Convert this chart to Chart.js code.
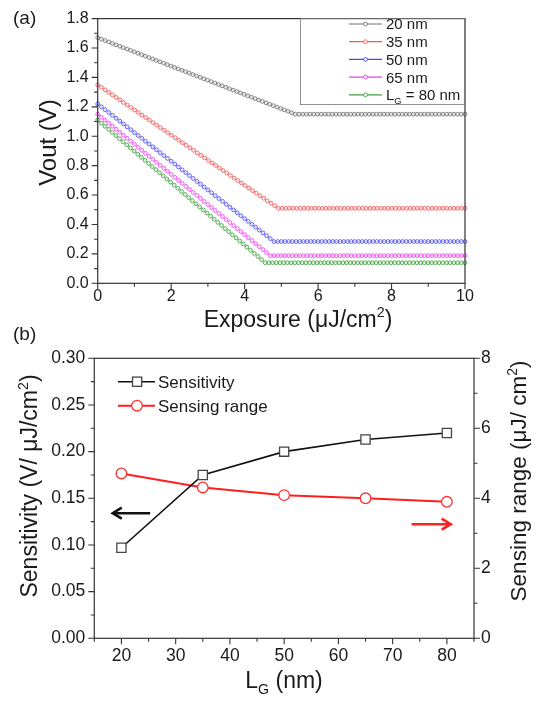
<!DOCTYPE html>
<html><head><meta charset="utf-8">
<style>
html,body{margin:0;padding:0;background:#fff;width:543px;height:703px;overflow:hidden}
canvas{position:absolute;left:0}
#cA{top:0;width:543px;height:340px}
#cB{top:310px;width:543px;height:393px}
</style>
<script src="https://cdn.jsdelivr.net/npm/chart.js@4.4.1/dist/chart.umd.min.js"></script>
</head><body>
<canvas id="cA" width="543" height="340"></canvas>
<canvas id="cB" width="543" height="393"></canvas>
<script>
// ---------- DATA: panel (a) ----------
const exposureRange = [0, 10];
const voutRange = [0, 1.8];
const gateLabels = ['20 nm', '35 nm', '50 nm', '65 nm', '80 nm'];
const voutStart = [1.67, 1.35, 1.22, 1.15, 1.11];
const kneeExposure = [5.38, 4.92, 4.80, 4.70, 4.56];
const voutFloor = [1.15, 0.51, 0.284, 0.188, 0.14];
// ---------- DATA: panel (b) ----------
const gateLengths = [20, 35, 50, 65, 80];
const sensitivity = [0.097, 0.175, 0.200, 0.213, 0.220];
const sensingRange = [4.71, 4.31, 4.09, 4.00, 3.90];
const gateRange = [15, 85];
const sensRange = [0, 0.30];
const rangeRange = [0, 8];

// ---------- STYLE ----------
const seriesColors = ['#707070', '#f05858', '#4b4bf0', '#f040f0', '#3f9f3f'];
const markerSpacing = 0.1;
const FONT = "'Liberation Sans', Arial, Helvetica, sans-serif";
const TXT = '#1a1a1a';
const AX = '#333333';
Chart.defaults.font.family = FONT;
Chart.defaults.color = TXT;

function font(s) { return s + 'px ' + FONT; }
function drawRuns(ctx, parts, x, y, size, align, color) {
  let total = 0;
  const items = parts.map(p => {
    const s = (p.sub || p.sup) ? size * 0.62 : size;
    ctx.font = font(s);
    const w = ctx.measureText(p.t).width;
    total += w;
    return { t: p.t, s, w, dy: p.sub ? size * 0.28 : (p.sup ? -size * 0.42 : 0) };
  });
  let cx = align === 'center' ? x - total / 2 : x;
  ctx.fillStyle = color || TXT;
  ctx.textAlign = 'left'; ctx.textBaseline = 'alphabetic';
  items.forEach(it => { ctx.font = font(it.s); ctx.fillText(it.t, cx, y + it.dy); cx += it.w; });
}
function drawRotRuns(ctx, parts, cx, cy, size, color) {
  ctx.save(); ctx.translate(cx, cy); ctx.rotate(-Math.PI / 2);
  drawRuns(ctx, parts, 0, size * 0.36, size, 'center', color);
  ctx.restore();
}
function drawTicks(ctx, scale, side, isMajor, maj, min) {
  const ca = scale.chart.chartArea;
  ctx.beginPath();
  scale.ticks.forEach(t => {
    const p = scale.getPixelForValue(t.value);
    const L = isMajor(t.value) ? maj : min;
    if (side === 'left') { ctx.moveTo(ca.left, p); ctx.lineTo(ca.left - L, p); }
    else if (side === 'right') { ctx.moveTo(ca.right, p); ctx.lineTo(ca.right + L, p); }
    else { ctx.moveTo(p, ca.bottom); ctx.lineTo(p, ca.bottom + L); }
  });
  ctx.stroke();
}
function frame(ctx, ca) {
  ctx.save(); ctx.strokeStyle = AX; ctx.lineWidth = 1.2;
  ctx.strokeRect(ca.left, ca.top, ca.right - ca.left, ca.bottom - ca.top);
  ctx.restore();
}
function hexA(h, a) {
  const r = parseInt(h.slice(1, 3), 16), g = parseInt(h.slice(3, 5), 16), b = parseInt(h.slice(5, 7), 16);
  return `rgba(${r},${g},${b},${a})`;
}

// ---------- PANEL (a) ----------
const chainPlugin = {
  id: 'chain',
  afterDatasetsDraw(chart) {
    const ctx = chart.ctx, xs = chart.scales.x;
    const step = Math.abs(xs.getPixelForValue(markerSpacing) - xs.getPixelForValue(0));
    chart.data.datasets.forEach((ds, i) => {
      const pts = chart.getDatasetMeta(i).data;
      ctx.save(); ctx.strokeStyle = seriesColors[i]; ctx.lineWidth = 0.85;
      for (let k = 0; k < pts.length - 1; k++) {
        const a = pts[k], b = pts[k + 1];
        const n = Math.max(1, Math.round((b.x - a.x) / step));
        const last = (k === pts.length - 2) ? 1 : 0;
        for (let j = 0; j < n + last; j++) {
          const t = j / n;
          ctx.beginPath();
          ctx.arc(a.x + (b.x - a.x) * t, a.y + (b.y - a.y) * t, 1.9, 0, Math.PI * 2);
          ctx.stroke();
        }
      }
      ctx.restore();
    });
  }
};
const decorA = {
  id: 'decorA',
  afterDraw(chart) {
    const ctx = chart.ctx, ca = chart.chartArea;
    frame(ctx, ca);
    ctx.save(); ctx.strokeStyle = AX; ctx.lineWidth = 1.1;
    drawTicks(ctx, chart.scales.y, 'left', v => Math.round(v * 10) % 2 === 0, 6, 3.5);
    drawTicks(ctx, chart.scales.x, 'bottom', v => Math.round(v) % 2 === 0, 6, 3.5);
    ctx.restore();
    // legend
    ctx.save();
    ctx.strokeStyle = '#777'; ctx.lineWidth = 0.8;
    ctx.strokeRect(300.5, ca.top, ca.right - 300.5, 86);
    gateLabels.forEach((lab, i) => {
      const y = 24 + i * 17.7;
      ctx.strokeStyle = seriesColors[i]; ctx.lineWidth = 1.2;
      ctx.beginPath(); ctx.moveTo(349, y); ctx.lineTo(382, y); ctx.stroke();
      ctx.fillStyle = '#fff'; ctx.lineWidth = 0.9;
      ctx.beginPath(); ctx.arc(365.5, y, 1.9, 0, Math.PI * 2); ctx.fill(); ctx.stroke();
      const parts = i === gateLabels.length - 1
        ? [{ t: 'L' }, { t: 'G', sub: true }, { t: ' = ' + lab }]
        : [{ t: lab }];
      drawRuns(ctx, parts, 386, y + 5.4, 15, 'left');
    });
    ctx.restore();
    // titles
    drawRotRuns(ctx, [{ t: 'Vout (V)' }], 47, 142.5, 24);
    drawRuns(ctx, [{ t: 'Exposure (\u03bcJ/cm' }, { t: '2', sup: true }, { t: ')' }], 298, 327, 23, 'center');
    drawRuns(ctx, [{ t: '(a)' }], 13, 23.5, 19, 'left');
  }
};

new Chart(document.getElementById('cA'), {
  type: 'line',
  data: {
    datasets: gateLabels.map((lab, i) => ({
      label: lab,
      data: [
        { x: exposureRange[0], y: voutStart[i] },
        { x: kneeExposure[i], y: voutFloor[i] },
        { x: exposureRange[1], y: voutFloor[i] }
      ],
      borderColor: hexA(seriesColors[i], 0.3), borderWidth: 1,
      pointRadius: 0, tension: 0, fill: false
    }))
  },
  options: {
    responsive: false, animation: false, devicePixelRatio: 1,
    layout: { padding: { left: 0, right: 78, top: 13, bottom: 0 } },
    plugins: { legend: { display: false }, tooltip: { enabled: false } },
    scales: {
      x: {
        type: 'linear', min: exposureRange[0], max: exposureRange[1],
        grid: { display: false, drawTicks: false }, border: { display: false },
        ticks: { stepSize: 1, autoSkip: false, maxRotation: 0, minRotation: 0, padding: 4, font: { size: 16 }, color: TXT,
          callback: v => Math.round(v) % 2 === 0 ? String(Math.round(v)) : '' },
        afterFit: s => { s.height = 56.7; }
      },
      y: {
        type: 'linear', min: voutRange[0], max: voutRange[1],
        grid: { display: false, drawTicks: false }, border: { display: false },
        ticks: { stepSize: 0.1, autoSkip: false, padding: 9, font: { size: 16 }, color: TXT,
          callback: v => Math.round(v * 10) % 2 === 0 ? v.toFixed(1) : '' },
        afterFit: s => { s.width = 97.7; }
      }
    }
  },
  plugins: [chainPlugin, decorA]
});

// ---------- PANEL (b) ----------
const arrowSens = { from: 25.3, to: 18.4, y: 0.134 };
const arrowRange = { from: 73.5, to: 80.7, y: 3.26 };
function drawArrow(ctx, x1, x2, y, color) {
  const dir = Math.sign(x2 - x1);
  ctx.save(); ctx.strokeStyle = color; ctx.lineWidth = 2.6;
  ctx.beginPath(); ctx.moveTo(x1, y); ctx.lineTo(x2 - dir * 1.5, y); ctx.stroke();
  ctx.beginPath(); ctx.moveTo(x2 - dir * 9, y - 5.5); ctx.lineTo(x2, y); ctx.lineTo(x2 - dir * 9, y + 5.5); ctx.stroke();
  ctx.restore();
}
const decorB = {
  id: 'decorB',
  afterDraw(chart) {
    const ctx = chart.ctx, ca = chart.chartArea, sc = chart.scales;
    frame(ctx, ca);
    ctx.save(); ctx.strokeStyle = AX; ctx.lineWidth = 1.1;
    drawTicks(ctx, sc.yL, 'left', v => Math.round(v / 0.025) % 2 === 0, 6, 3.5);
    drawTicks(ctx, sc.yR, 'right', v => Math.round(v) % 2 === 0, 6, 3.5);
    drawTicks(ctx, sc.x, 'bottom', v => Math.round(v) % 10 === 0, 6, 3.5);
    ctx.restore();
    // arrows
    drawArrow(ctx, sc.x.getPixelForValue(arrowSens.from), sc.x.getPixelForValue(arrowSens.to), sc.yL.getPixelForValue(arrowSens.y), '#111');
    drawArrow(ctx, sc.x.getPixelForValue(arrowRange.from), sc.x.getPixelForValue(arrowRange.to), sc.yR.getPixelForValue(arrowRange.y), '#ff2020');
    // legend
    ctx.save();
    const rows = [71.7, 95.7];
    ctx.strokeStyle = '#111'; ctx.lineWidth = 1.6;
    ctx.beginPath(); ctx.moveTo(118, rows[0]); ctx.lineTo(155, rows[0]); ctx.stroke();
    ctx.fillStyle = '#fff'; ctx.strokeStyle = '#444'; ctx.lineWidth = 1.3;
    ctx.fillRect(132.5, rows[0] - 4.6, 9.2, 9.2); ctx.strokeRect(132.5, rows[0] - 4.6, 9.2, 9.2);
    ctx.strokeStyle = '#ff1e1e'; ctx.lineWidth = 2;
    ctx.beginPath(); ctx.moveTo(118, rows[1]); ctx.lineTo(155, rows[1]); ctx.stroke();
    ctx.strokeStyle = '#ff3030'; ctx.lineWidth = 1.3;
    ctx.beginPath(); ctx.arc(137, rows[1], 5.3, 0, Math.PI * 2); ctx.fill(); ctx.stroke();
    drawRuns(ctx, [{ t: 'Sensitivity' }], 158, rows[0] + 6, 17, 'left');
    drawRuns(ctx, [{ t: 'Sensing range' }], 158, rows[1] + 6, 17, 'left');
    ctx.restore();
    // titles
    drawRotRuns(ctx, [{ t: 'Sensitivity (V/ \u03bcJ/cm' }, { t: '2', sup: true }, { t: ')' }], 29, 176, 23);
    drawRotRuns(ctx, [{ t: 'Sensing range (\u03bcJ/ cm' }, { t: '2', sup: true }, { t: ')' }], 518, 171, 22.5);
    drawRuns(ctx, [{ t: 'L' }, { t: 'G', sub: true }, { t: ' (nm)' }], 284, 378, 23, 'center');
    drawRuns(ctx, [{ t: '(b)' }], 13, 30, 19, 'left');
  }
};

new Chart(document.getElementById('cB'), {
  type: 'line',
  data: {
    datasets: [
      {
        label: 'Sensitivity', yAxisID: 'yL', order: 0,
        data: gateLengths.map((g, i) => ({ x: g, y: sensitivity[i] })),
        borderColor: '#111', borderWidth: 1.6, tension: 0,
        pointStyle: 'rect', pointRadius: 6.5, pointBorderColor: '#444', pointBorderWidth: 1.3, pointBackgroundColor: '#fff'
      },
      {
        label: 'Sensing range', yAxisID: 'yR', order: 1,
        data: gateLengths.map((g, i) => ({ x: g, y: sensingRange[i] })),
        borderColor: '#ff1e1e', borderWidth: 2, tension: 0,
        pointStyle: 'circle', pointRadius: 5.3, pointBorderColor: '#ff3030', pointBorderWidth: 1.3, pointBackgroundColor: '#fff'
      }
    ]
  },
  options: {
    responsive: false, animation: false, devicePixelRatio: 1,
    layout: { padding: { left: 0, right: 0, top: 48.3, bottom: 0 } },
    plugins: { legend: { display: false }, tooltip: { enabled: false } },
    scales: {
      x: {
        type: 'linear', min: gateRange[0], max: gateRange[1],
        grid: { display: false, drawTicks: false }, border: { display: false },
        ticks: { stepSize: 5, autoSkip: false, maxRotation: 0, minRotation: 0, padding: 7, font: { size: 17.5 }, color: TXT,
          callback: v => Math.round(v) % 10 === 0 ? String(Math.round(v)) : '' },
        afterFit: s => { s.height = 64.7; }
      },
      yL: {
        type: 'linear', position: 'left', min: sensRange[0], max: sensRange[1],
        grid: { display: false, drawTicks: false }, border: { display: false },
        ticks: { stepSize: 0.025, autoSkip: false, padding: 9, font: { size: 17.5 }, color: TXT,
          callback: v => Math.round(v / 0.025) % 2 === 0 ? v.toFixed(2) : '' },
        afterFit: s => { s.width = 94.3; }
      },
      yR: {
        type: 'linear', position: 'right', min: rangeRange[0], max: rangeRange[1],
        grid: { display: false, drawTicks: false }, border: { display: false },
        ticks: { stepSize: 1, autoSkip: false, padding: 7, font: { size: 17.5 }, color: TXT,
          callback: v => Math.round(v) % 2 === 0 ? String(Math.round(v)) : '' },
        afterFit: s => { s.width = 69; }
      }
    }
  },
  plugins: [decorB]
});
</script>
</body></html>
